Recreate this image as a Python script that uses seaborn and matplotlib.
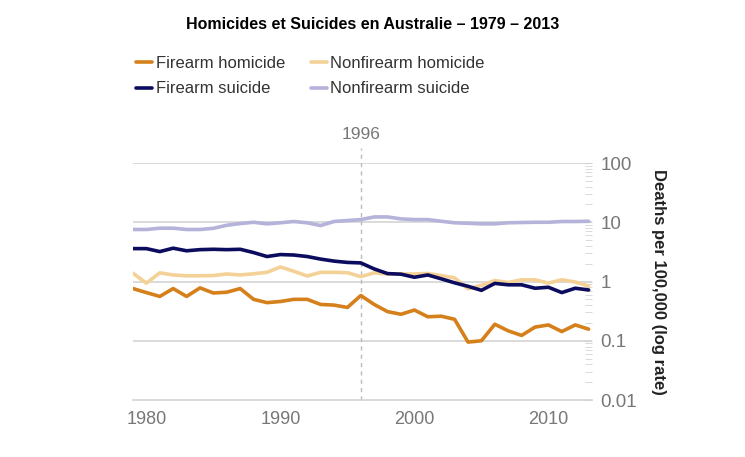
import numpy as np
import pandas as pd
import matplotlib
matplotlib.use("Agg")
import matplotlib.pyplot as plt
import seaborn as sns
from matplotlib.ticker import LogLocator, FixedLocator

years = list(range(1979, 2014))

firearm_homicide = [0.76, 0.65, 0.56, 0.76, 0.56, 0.78, 0.64, 0.66, 0.76, 0.50,
                    0.44, 0.46, 0.50, 0.50, 0.41, 0.40, 0.365, 0.58, 0.41, 0.31,
                    0.28, 0.33, 0.254, 0.26, 0.23, 0.095, 0.10, 0.19, 0.147, 0.123,
                    0.17, 0.185, 0.143, 0.185, 0.157]
nonfirearm_homicide = [1.38, 0.94, 1.40, 1.29, 1.25, 1.25, 1.26, 1.34, 1.29, 1.35,
                       1.43, 1.76, 1.49, 1.24, 1.43, 1.43, 1.41, 1.21, 1.40, 1.34,
                       1.34, 1.34, 1.37, 1.26, 1.15, 0.755, 0.86, 1.04, 0.96, 1.07,
                       1.07, 0.94, 1.07, 0.98, 0.84]
firearm_suicide = [3.59, 3.59, 3.2, 3.65, 3.3, 3.45, 3.5, 3.45, 3.5, 3.08,
                   2.64, 2.85, 2.8, 2.64, 2.39, 2.21, 2.1, 2.06, 1.63, 1.36,
                   1.33, 1.18, 1.29, 1.11, 0.95, 0.83, 0.71, 0.93, 0.88, 0.88,
                   0.77, 0.80, 0.65, 0.77, 0.72]
nonfirearm_suicide = [7.55, 7.55, 7.94, 7.94, 7.55, 7.55, 7.9, 8.9, 9.5, 10.0,
                      9.4, 9.8, 10.3, 9.8, 8.8, 10.3, 10.7, 11.1, 12.3, 12.3,
                      11.4, 11.1, 11.1, 10.4, 9.8, 9.6, 9.4, 9.4, 9.8, 9.9,
                      10.0, 10.0, 10.3, 10.3, 10.4]

series_names = ["Firearm homicide", "Nonfirearm homicide", "Firearm suicide", "Nonfirearm suicide"]
colors = ["#D6801C", "#F4D196", "#0C0C5E", "#B5B3D9"]
y_ticks = [0.01, 0.1, 1, 10, 100]
y_tick_labels = ["0.01", "0.1", "1", "10", "100"]
x_ticks = [1980, 1990, 2000, 2010]
marker_year = 1996

df = pd.DataFrame({
    "year": years * 4,
    "rate": firearm_homicide + nonfirearm_homicide + firearm_suicide + nonfirearm_suicide,
    "series": sum([[n] * len(years) for n in series_names], []),
})

sns.set_style("white")
plt.rcParams["font.family"] = ["Liberation Sans", "DejaVu Sans"]

fig = plt.figure(figsize=(7.45, 4.57), dpi=100)
ax = fig.add_axes([0.1785, 0.1247, 0.6161, 0.5186])

sns.lineplot(data=df, x="year", y="rate", hue="series", hue_order=series_names,
             palette=colors, linewidth=2.6, ax=ax, legend=False)

ax.set_yscale("log")
ax.set_ylim(0.01, 100)
ax.set_xlim(1979, 2013.25)

# grid lines at each decade
for v in y_ticks[1:]:
    ax.axhline(v, color="#d4d4d4", linewidth=1.2, zorder=0)

ax.axvline(marker_year, color="#bbbbbb", linestyle=(0, (3, 3)), linewidth=1, zorder=0,
           ymax=1.065, clip_on=False)
ax.text(marker_year, 100 * 10 ** (21 / 59.3), str(marker_year), ha="center", va="bottom",
        color="#777777", fontsize=12.5)

for s in ["left", "top", "right"]:
    ax.spines[s].set_visible(False)
ax.spines["bottom"].set_color("#d4d4d4")
ax.spines["bottom"].set_linewidth(1.2)

ax.yaxis.tick_right()
ax.yaxis.set_label_position("right")
ax.yaxis.set_major_locator(FixedLocator(y_ticks))
ax.set_yticklabels(y_tick_labels)
ax.yaxis.set_minor_locator(LogLocator(base=10, subs=np.arange(2, 10)))
ax.yaxis.set_minor_formatter(plt.NullFormatter())
ax.tick_params(axis="y", which="major", direction="in", length=6, color="#d4d4d4",
               labelsize=13.5, labelcolor="#777777", pad=6)
ax.tick_params(axis="y", which="minor", direction="in", length=5, color="#d4d4d4")

ax.set_xticks(x_ticks)
ax.tick_params(axis="x", length=0, labelsize=13, labelcolor="#777777", pad=8)
ax.set_xlabel("")
ax.set_ylabel("Deaths per 100,000 (log rate)", rotation=270, fontsize=12,
              fontweight="bold", color="#222222", labelpad=21)

handles = [plt.Line2D([], [], color=c, linewidth=2.6) for c in colors]
order = [0, 2, 1, 3]
fig.legend([handles[i] for i in order], [series_names[i] for i in order],
           loc="upper left", bbox_to_anchor=(0.163, 0.91), ncol=2, frameon=False,
           fontsize=12, handlelength=0.95, handletextpad=0.2, columnspacing=1.55,
           labelspacing=0.62, labelcolor="#333333")

fig.suptitle("Homicides et Suicides en Australie \u2013 1979 \u2013 2013", x=0.5, y=0.963,
             fontsize=11.5, fontweight="bold", color="#000000")

fig.savefig("out.png", dpi=100)
